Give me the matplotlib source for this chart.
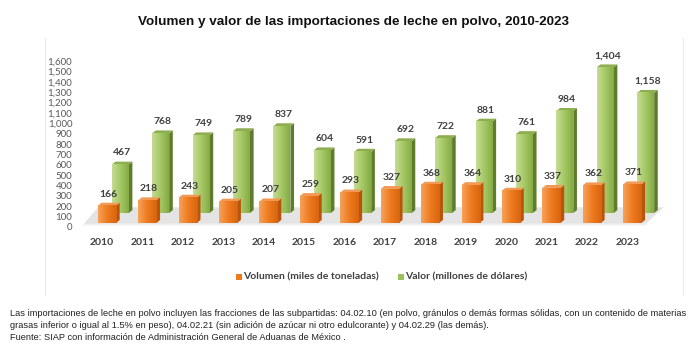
import matplotlib
matplotlib.use("Agg")
import matplotlib.pyplot as plt
from matplotlib.patches import Polygon
from matplotlib.ticker import FuncFormatter
import numpy as np

years = [2010, 2011, 2012, 2013, 2014, 2015, 2016, 2017, 2018, 2019, 2020, 2021, 2022, 2023]
volumen = [166, 218, 243, 205, 207, 259, 293, 327, 368, 364, 310, 337, 362, 371]
valor = [467, 768, 749, 789, 837, 604, 591, 692, 722, 881, 761, 984, 1404, 1158]

title = "Volumen y valor de las importaciones de leche en polvo, 2010-2023"
label_vol = "Volumen (miles de toneladas)"
label_val = "Valor (millones de dólares)"
notes = [
    "Las importaciones de leche en polvo incluyen las fracciones de las subpartidas: 04.02.10 (en polvo, gránulos o demás formas sólidas, con un contenido de materias",
    "grasas inferior o igual al 1.5% en peso), 04.02.21 (sin adición de azúcar ni otro edulcorante) y 04.02.29 (las demás).",
    "Fuente: SIAP con información de Administración General de Aduanas de México .",
]

fig = plt.figure(figsize=(7, 3.5), dpi=100)
ax = fig.add_axes([75 / 700, 1 - 227 / 350, 605 / 700, 166 / 350])
ax.set_xlim(-0.67, 14.3)
ax.set_ylim(0, 1600)

depth_x, depth_y = 0.09, 28


def bar3d(x, h, base, w, front, side, top):
    x0, x1 = x - w / 2, x + w / 2
    y0, y1 = base, base + h
    ax.add_patch(Polygon([(x1, y0), (x1 + depth_x, y0 + depth_y), (x1 + depth_x, y1 + depth_y), (x1, y1)],
                         closed=True, facecolor=side, edgecolor="none", clip_on=False, zorder=3))
    ax.add_patch(Polygon([(x0, y1), (x1, y1), (x1 + depth_x, y1 + depth_y), (x0 + depth_x, y1 + depth_y)],
                         closed=True, facecolor=top, edgecolor="none", clip_on=False, zorder=3))
    grad = np.linspace(0, 1, 50).reshape(1, -1)
    ax.imshow(grad, cmap=front, extent=(x0, x1, y0, y1), aspect="auto", zorder=3, clip_on=False)


orange_cmap = matplotlib.colors.LinearSegmentedColormap.from_list("o", ["#f6a25a", "#ee7a1e", "#d8650f"])
green_cmap = matplotlib.colors.LinearSegmentedColormap.from_list("g", ["#c4dc92", "#a5c865", "#86ab44"])

# floor
n = len(years)
ax.add_patch(Polygon([(-0.45, 30), (n - 0.55, 30), (n - 0.1, 190), (-0.1, 190)], closed=True,
                     facecolor="#e4e4e4", edgecolor="none", zorder=1, clip_on=False))
ax.add_patch(Polygon([(-0.45, 30), (n - 0.55, 30), (n - 0.5, 15), (-0.5, 15)], closed=True,
                     facecolor="#f0f0f0", edgecolor="none", zorder=1, clip_on=False))

idx = np.arange(n)
for i in idx:
    bar3d(i + 0.45, valor[i], 135, 0.42, green_cmap, "#5e7d2c", "#8fae52")
    ax.text(i + 0.5, 135 + valor[i] + depth_y + 40, f"{valor[i]:,}", ha="center", va="bottom",
            fontsize=7.5, fontweight="bold", color="#404040", family="Lato", zorder=5)
for i in idx:
    bar3d(i + 0.12, volumen[i], 40, 0.45, orange_cmap, "#b8540c", "#f19a55")
    ax.text(i + 0.16, 40 + volumen[i] + depth_y + 40, f"{volumen[i]:,}", ha="center", va="bottom",
            fontsize=7.5, fontweight="bold", color="#404040", family="Lato", zorder=5)

for s in ax.spines.values():
    s.set_visible(False)
ax.set_yticks(range(0, 1601, 100))
ax.yaxis.set_major_formatter(FuncFormatter(lambda v, p: f"{int(v):,}"))
ax.tick_params(axis="y", length=0, labelsize=7, labelcolor="#595959", pad=2)
for lab in ax.get_yticklabels():
    lab.set_family("Lato")
ax.set_xticks(idx)
ax.set_xticklabels([str(y) for y in years], fontsize=7.5, fontweight="bold", color="#404040", family="Lato")
ax.tick_params(axis="x", length=0, pad=8)

fig.text(0.505, 1 - 22 / 350, title, ha="center", va="center", fontsize=9.7, fontweight="bold",
         family="Liberation Sans", color="#111111")

# legend
fig.patches.append(Polygon([(236 / 700, 1 - 280 / 350), (242 / 700, 1 - 280 / 350), (242 / 700, 1 - 274 / 350),
                            (236 / 700, 1 - 274 / 350)], closed=True, transform=fig.transFigure,
                           facecolor="#ee7a1e", edgecolor="none"))
fig.text(243 / 700, 1 - 277 / 350, label_vol, ha="left", va="center", fontsize=7.5, fontweight="bold",
         color="#404040", family="Lato")
fig.patches.append(Polygon([(398 / 700, 1 - 280 / 350), (404 / 700, 1 - 280 / 350), (404 / 700, 1 - 274 / 350),
                            (398 / 700, 1 - 274 / 350)], closed=True, transform=fig.transFigure,
                           facecolor="#9bc15a", edgecolor="none"))
fig.text(405 / 700, 1 - 277 / 350, label_val, ha="left", va="center", fontsize=7.5, fontweight="bold",
         color="#404040", family="Lato")

# faint chart frame
fig.add_artist(plt.Line2D([45 / 700, 45 / 700], [1 - 295 / 350, 1 - 38 / 350], color="#ececec", lw=0.8))
fig.add_artist(plt.Line2D([683 / 700, 683 / 700], [1 - 295 / 350, 1 - 38 / 350], color="#ececec", lw=0.8))

for k, line in enumerate(notes):
    fig.text(10 / 700, 1 - (313 + 12.5 * k) / 350, line, ha="left", va="center", fontsize=6.7,
             family=["Liberation Sans Narrow", "Liberation Sans"], color="#222222")

fig.savefig("out.png", dpi=100, facecolor="white")
